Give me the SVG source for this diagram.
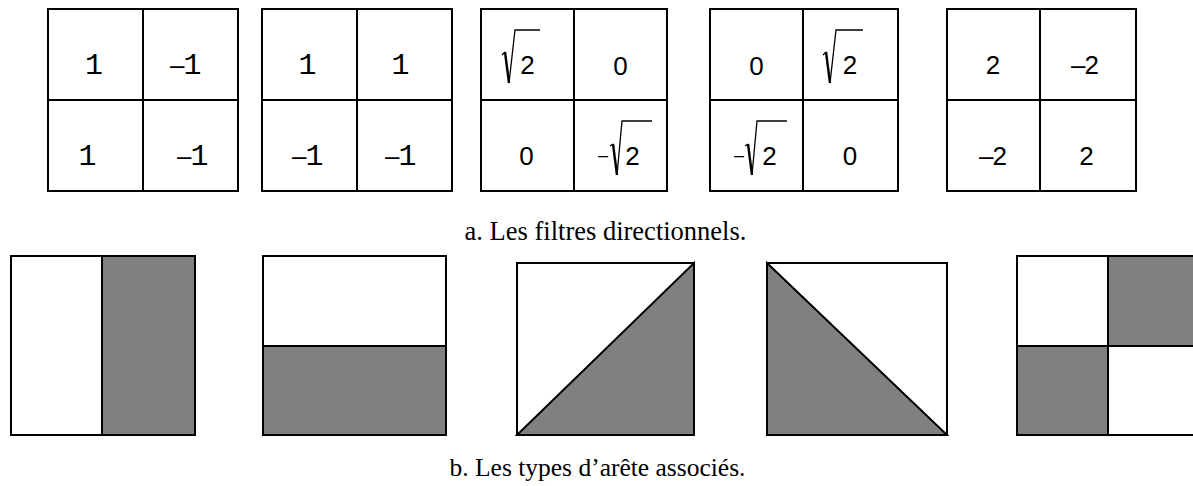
<svg xmlns="http://www.w3.org/2000/svg" width="1193" height="486" viewBox="0 0 1193 486">
<style>
.box{fill:#fff;stroke:#000;stroke-width:2}
.ln{stroke:#000;stroke-width:2;fill:none}
.g{fill:#808080;stroke:#000;stroke-width:2}
.m{font-family:"Liberation Mono",monospace;font-size:30px;fill:#000;text-anchor:middle}
.s{font-family:"Liberation Sans",Arial,sans-serif;font-size:26px;fill:#000;text-anchor:middle}
.d{font-family:"Liberation Sans",Arial,sans-serif;font-size:26px;fill:#000}
.mo{font-family:"Liberation Mono",monospace;font-size:30px}
.sm{font-family:"Liberation Sans",Arial,sans-serif;font-size:18px;fill:#000}
.cap{font-family:"Liberation Serif","Times New Roman",serif;font-size:25.5px;fill:#000;text-anchor:middle}
.rad{stroke:#000;stroke-width:1.3;fill:none;stroke-linejoin:miter}
.radd{stroke:#000;stroke-width:2.4;fill:none}
</style>
<g id="filter1">
<rect class="box" x="48" y="9" width="190" height="182"/>
<line class="ln" x1="143" y1="9" x2="143" y2="191"/>
<line class="ln" x1="48" y1="100" x2="238" y2="100"/>
<text class="m" x="94" y="74">1</text>
<text class="d" x="170" y="74">–<tspan class="mo" dx="-1">1</tspan></text>
<text class="m" x="87.5" y="165">1</text>
<text class="d" x="177" y="165">–<tspan class="mo" dx="-1">1</tspan></text>
</g>
<g id="filter2">
<rect class="box" x="262" y="9" width="190" height="182"/>
<line class="ln" x1="357" y1="9" x2="357" y2="191"/>
<line class="ln" x1="262" y1="100" x2="452" y2="100"/>
<text class="m" x="307.5" y="74">1</text>
<text class="m" x="400.5" y="74">1</text>
<text class="d" x="292" y="165">–<tspan class="mo" dx="-1">1</tspan></text>
<text class="d" x="385" y="165">–<tspan class="mo" dx="-1">1</tspan></text>
</g>
<g id="filter3">
<rect class="box" x="481" y="9" width="186" height="182"/>
<line class="ln" x1="574" y1="9" x2="574" y2="191"/>
<line class="ln" x1="481" y1="100" x2="667" y2="100"/>
<path class="rad" d="M502,55 L505,52 M509,83 L515,30 L540,30"/>
<path class="radd" d="M505,52 L509,83"/>
<text class="s" x="527.5" y="74">2</text>
<text class="s" x="620.5" y="75">0</text>
<text class="s" x="526.5" y="165">0</text>
<text class="sm" x="598" y="161">–</text>
<path class="rad" d="M610,146 L613,144 M617,175 L622,121 L652,121"/>
<path class="radd" d="M613,144 L617,175"/>
<text class="s" x="632.5" y="165">2</text>
</g>
<g id="filter4">
<rect class="box" x="710" y="9" width="188" height="182"/>
<line class="ln" x1="803" y1="9" x2="803" y2="191"/>
<line class="ln" x1="710" y1="100" x2="898" y2="100"/>
<text class="s" x="756.5" y="75">0</text>
<path class="rad" d="M823,55 L826,52 M830,83 L836,30 L863,30"/>
<path class="radd" d="M826,52 L830,83"/>
<text class="s" x="850" y="74">2</text>
<text class="sm" x="734" y="161">–</text>
<path class="rad" d="M745,146 L748,144 M752,175 L757,121 L787,121"/>
<path class="radd" d="M748,144 L752,175"/>
<text class="s" x="769.5" y="165">2</text>
<text class="s" x="850" y="165">0</text>
</g>
<g id="filter5">
<rect class="box" x="947" y="9" width="189" height="182"/>
<line class="ln" x1="1040" y1="9" x2="1040" y2="191"/>
<line class="ln" x1="947" y1="100" x2="1136" y2="100"/>
<text class="s" x="993" y="74">2</text>
<text class="d" x="1071" y="74">–<tspan dx="-1">2</tspan></text>
<text class="d" x="979" y="165">–<tspan dx="-1">2</tspan></text>
<text class="s" x="1086.5" y="165">2</text>
</g>
<g id="caption-a">
<text class="cap" x="605.5" y="240" style="font-size:26.5px">a. Les filtres directionnels.</text>
</g>
<g id="edge1">
<rect class="box" x="11" y="256" width="184" height="179"/>
<rect class="g" x="102" y="256" width="93" height="179"/>
</g>
<g id="edge2">
<rect class="box" x="263" y="256" width="183" height="179"/>
<rect class="g" x="263" y="346" width="183" height="89"/>
</g>
<g id="edge3">
<rect class="box" x="517" y="263" width="177" height="172"/>
<polygon class="g" points="517,435 694,263 694,435"/>
</g>
<g id="edge4">
<rect class="box" x="767" y="263" width="180" height="172"/>
<polygon class="g" points="767,263 947,435 767,435"/>
</g>
<g id="edge5">
<rect class="box" x="1017" y="256" width="184" height="179"/>
<rect class="g" x="1108" y="256" width="93" height="90"/>
<rect class="g" x="1017" y="346" width="91" height="89"/>
</g>
<g id="caption-b">
<text class="cap" x="597.5" y="476">b. Les types d’arête associés.</text>
</g>
</svg>
